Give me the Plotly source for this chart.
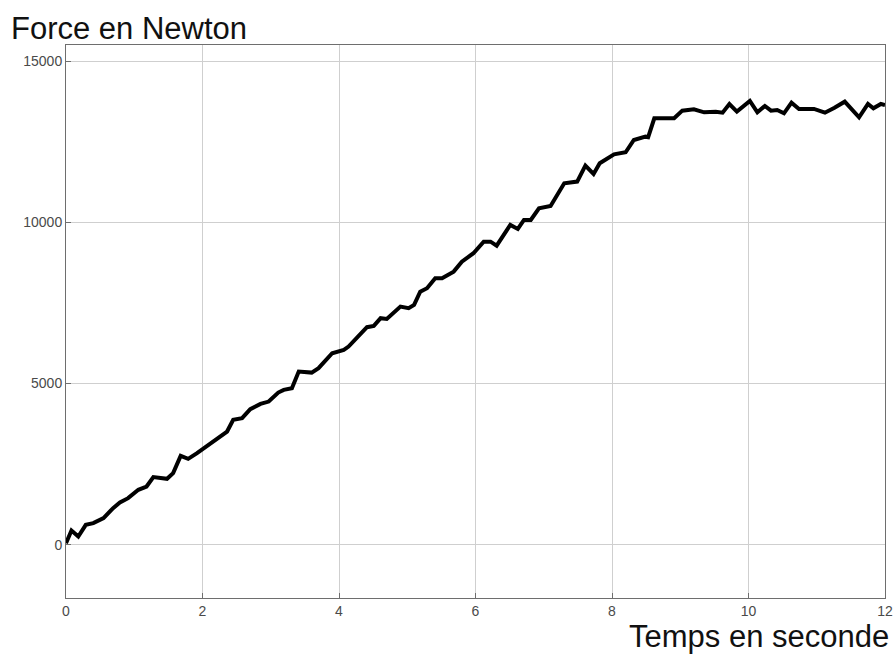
import plotly.graph_objects as go

time_s = [0.0, 0.08, 0.18, 0.29, 0.40, 0.55, 0.69, 0.79, 0.91, 1.06, 1.18, 1.28, 1.48, 1.57, 1.68, 1.79,
          1.92, 2.06, 2.21, 2.36, 2.45, 2.58, 2.70, 2.85, 2.97, 3.11, 3.19, 3.31, 3.41, 3.60, 3.70, 3.90,
          4.07, 4.14, 4.41, 4.51, 4.61, 4.70, 4.90, 5.02, 5.10, 5.19, 5.29, 5.41, 5.51, 5.68, 5.80, 5.97,
          6.12, 6.22, 6.31, 6.51, 6.62, 6.71, 6.81, 6.93, 7.10, 7.30, 7.49, 7.61, 7.73, 7.82, 8.03, 8.20,
          8.32, 8.49, 8.53, 8.62, 8.91, 9.03, 9.20, 9.35, 9.52, 9.62, 9.72, 9.83, 10.02, 10.13, 10.24,
          10.33, 10.42, 10.52, 10.63, 10.74, 10.96, 11.12, 11.26, 11.41, 11.62, 11.75, 11.83, 11.94, 12.0]
force_n = [50, 443, 257, 620, 673, 827, 1138, 1311, 1447, 1705, 1807, 2099, 2046, 2222, 2759, 2666,
           2842, 3047, 3276, 3512, 3875, 3928, 4206, 4370, 4442, 4721, 4805, 4857, 5372, 5341, 5476, 5941,
           6045, 6147, 6748, 6788, 7027, 7006, 7387, 7337, 7440, 7852, 7957, 8267, 8267, 8472, 8782, 9042,
           9402, 9402, 9278, 9920, 9796, 10075, 10075, 10437, 10509, 11212, 11264, 11758, 11501, 11832, 12111, 12173,
           12555, 12657, 12640, 13226, 13226, 13464, 13505, 13412, 13433, 13402, 13671, 13433, 13764, 13412, 13609,
           13464, 13485, 13382, 13712, 13516, 13516, 13402, 13557, 13743, 13257, 13671, 13536, 13671, 13640]

x_ticks = [0, 2, 4, 6, 8, 10, 12]
x_labels = ["0", "2", "4", "6", "8", "10", "12"]
y_ticks = [0, 5000, 10000, 15000]
y_labels = ["0", "5000", "10000", "15000"]

fig = go.Figure()
fig.add_trace(go.Scatter(x=time_s, y=force_n, mode="lines",
                         line=dict(color="black", width=4), showlegend=False))

axis_common = dict(showgrid=True, gridcolor="#cfcfcf", gridwidth=1,
                   showline=True, linecolor="#6e6e6e", linewidth=1, mirror=True,
                   ticks="inside", ticklen=5, tickcolor="#6e6e6e",
                   tickfont=dict(family="Liberation Sans, Arial", size=14, color="#4a4a4a"),
                   zeroline=False, automargin=False)

fig.update_layout(
    width=895, height=654,
    margin=dict(l=66, r=10, t=45, b=56),
    paper_bgcolor="white", plot_bgcolor="white",
    xaxis=dict(range=[0, 12], tickvals=x_ticks, ticktext=x_labels, **axis_common),
    yaxis=dict(range=[-1650, 15500], tickvals=y_ticks, ticktext=y_labels, **axis_common),
    annotations=[
        dict(text="Force en Newton", xref="paper", yref="paper", x=-0.069, y=1.0,
             xanchor="left", yanchor="bottom", yshift=-3, showarrow=False,
             font=dict(family="Liberation Sans, Arial", size=31, color="#111111")),
        dict(text="Temps en seconde", xref="paper", yref="paper", x=1.007, y=0,
             xanchor="right", yanchor="top", yshift=-19, showarrow=False,
             font=dict(family="Liberation Sans, Arial", size=31, color="#111111")),
    ],
)

fig.write_html("out.html", config={"displayModeBar": False},
               post_script="document.body.style.margin='0';document.body.style.overflow='hidden';")
